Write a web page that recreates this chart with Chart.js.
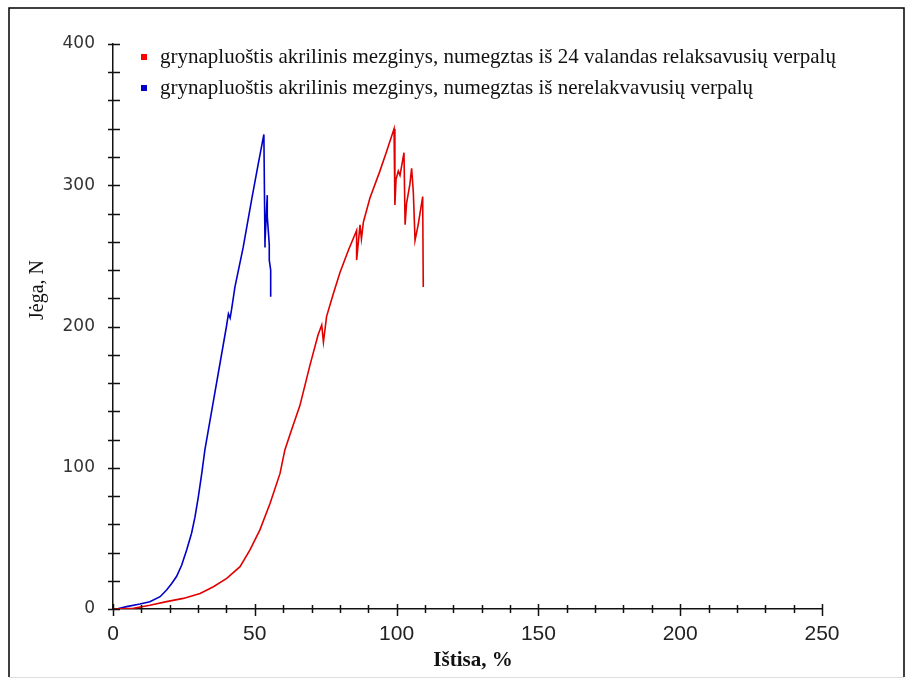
<!DOCTYPE html>
<html>
<head>
<meta charset="utf-8">
<script src="https://cdn.jsdelivr.net/npm/chart.js@4/dist/chart.umd.min.js"></script>
<style>
  html, body { margin: 0; padding: 0; background: #fff; }
  #wrap { width: 910px; height: 682px; position: relative; }
</style>
</head>
<body>
<div id="wrap"><canvas id="chart"></canvas></div>
<script>
// series (x = elongation %, y = force N)
const redX = [0, 7.2, 13, 18.9, 24.8, 30.7, 35.4, 40.1, 44.8, 48.3, 51.8, 55.4, 58.9, 60.6, 63, 65.9, 69.5, 72.3, 73.6, 74.2, 75.3, 77.5, 80, 83, 85.9, 85.9, 87.1, 87.6, 88.3, 90.6, 94.1, 96.5, 99.1, 99.4, 99.8, 100.6, 101.2, 102.6, 103, 103.5, 104.7, 105.3, 105.9, 106.5, 107.6, 109.2, 109.4, 109.4];
const redY = [0, 0.5, 2.6, 5.2, 7.5, 11, 15.8, 21.7, 30, 41.8, 56, 74.8, 96, 112.6, 127, 144, 173, 194, 201, 189, 207, 222, 238, 254, 268, 247, 272, 262, 274, 291, 310, 324, 340, 286, 304, 310, 307, 323, 272, 287, 301, 312, 295, 261, 272, 292, 228, 235];
const blueX = [0, 1.3, 4.8, 9.5, 13, 16.6, 18.9, 20.7, 22.4, 24.2, 26, 27.7, 28.9, 30.1, 31.3, 32.4, 34, 36, 38, 40, 40.7, 41.3, 41.8, 43, 45.9, 48.9, 51.2, 53.2, 53.6, 53.6, 54.4, 54.4, 55.1, 55.1, 55.6, 55.6];
const blueY = [0, 0, 1.7, 3.5, 5.2, 8.7, 13.5, 18, 23, 31, 42, 53.6, 65, 79.5, 96, 112.6, 131, 154, 177, 200, 209, 206, 212, 228, 256, 290, 315, 336, 256, 260, 293, 278, 258, 247, 240, 221];

const seriesLabels = [
    "grynapluoštis akrilinis mezginys, numegztas iš 24 valandas relaksavusių verpalų",
    "grynapluoštis akrilinis mezginys, numegztas iš nerelakvavusių verpalų"
];
const xTitle = "Ištisa, %";
const yTitle = "Jėga, N";
const xMax = 250, yMax = 400;

function toPoints(xs, ys) {
    return xs.map((x, i) => ({ x: x, y: ys[i] }));
}

// frame, legend, axis titles and the crossing tick marks
const decorPlugin = {
    id: 'decor',
    beforeDraw(chart) {
        const ctx = chart.ctx;
        ctx.save();
        ctx.fillStyle = '#fff';
        ctx.fillRect(0, 0, chart.width, chart.height);
        ctx.strokeStyle = '#000';
        ctx.lineWidth = 1.5;
        ctx.beginPath();
        ctx.moveTo(9, 677);
        ctx.lineTo(9, 8);
        ctx.lineTo(904, 8);
        ctx.lineTo(904, 677);
        ctx.stroke();
        ctx.strokeStyle = '#ddd';
        ctx.lineWidth = 1;
        ctx.beginPath();
        ctx.moveTo(9, 677.5);
        ctx.lineTo(904, 677.5);
        ctx.stroke();
        ctx.restore();
    },
    afterDraw(chart) {
        const ctx = chart.ctx;
        const xs = chart.scales.x, ys = chart.scales.y;
        const x0 = xs.getPixelForValue(0), y0 = ys.getPixelForValue(0);
        ctx.save();
        ctx.strokeStyle = '#111';
        ctx.lineWidth = 1.5;
        ctx.beginPath();
        for (let v = 0; v <= yMax; v += 20) {
            const p = Math.round(ys.getPixelForValue(v)) + 0.5;
            ctx.moveTo(x0 - 5, p);
            ctx.lineTo(x0 + 7, p);
        }
        for (let v = 0; v <= xMax; v += 10) {
            const p = Math.round(xs.getPixelForValue(v)) + 0.5;
            const major = v % 50 === 0;
            ctx.moveTo(p, y0 - (major ? 5 : 4));
            ctx.lineTo(p, y0 + (major ? 7 : 4));
        }
        ctx.stroke();

        // legend
        ctx.font = '21px "Liberation Serif", "Times New Roman", serif';
        ctx.textBaseline = 'middle';
        chart.data.datasets.forEach((ds, i) => {
            const cy = 57 + i * 31;
            ctx.fillStyle = ds.legendColor;
            ctx.fillRect(141, cy - 3, 6, 6);
            ctx.fillStyle = '#111';
            ctx.fillText(ds.label, 160, cy);
        });

        // axis titles
        ctx.font = 'bold 21px "Liberation Serif", "Times New Roman", serif';
        ctx.textAlign = 'center';
        ctx.fillText(xTitle, 473, 661);
        ctx.font = '20px "Liberation Serif", "Times New Roman", serif';
        ctx.translate(38, 290);
        ctx.rotate(-Math.PI / 2);
        ctx.fillText(yTitle, 0, 0);
        ctx.restore();
    }
};

const ctx = document.getElementById('chart').getContext('2d');
new Chart(ctx, {
    type: 'line',
    data: {
        datasets: [
            {
                label: seriesLabels[0],
                data: toPoints(redX, redY),
                borderColor: 'rgb(225, 0, 0)',
                legendColor: '#f00',
                borderWidth: 1.6,
                pointRadius: 0,
                tension: 0,
                fill: false
            },
            {
                label: seriesLabels[1],
                data: toPoints(blueX, blueY),
                borderColor: 'rgb(0, 0, 200)',
                legendColor: '#0000c8',
                borderWidth: 1.6,
                pointRadius: 0,
                tension: 0,
                fill: false
            }
        ]
    },
    options: {
        responsive: true,
        maintainAspectRatio: false,
        animation: false,
        layout: { padding: { left: 0, top: 44, right: 88, bottom: 0 } },
        plugins: {
            legend: { display: false },
            tooltip: { enabled: false }
        },
        scales: {
            x: {
                type: 'linear',
                min: 0,
                max: xMax,
                afterFit: s => { s.height = 73; },
                border: { display: true, color: '#111', width: 1.5 },
                grid: { drawOnChartArea: false, drawTicks: false },
                ticks: {
                    stepSize: 50,
                    padding: 13,
                    maxRotation: 0,
                    color: '#222',
                    font: { family: '"Liberation Sans", Arial, sans-serif', size: 21 }
                }
            },
            y: {
                type: 'linear',
                min: 0,
                max: yMax,
                afterFit: s => { s.width = 113; },
                border: { display: true, color: '#111', width: 1.5 },
                grid: { drawOnChartArea: false, drawTicks: false },
                ticks: {
                    stepSize: 100,
                    padding: 18,
                    color: '#333',
                    font: { family: '"DejaVu Sans", sans-serif', size: 17 }
                }
            }
        }
    },
    plugins: [decorPlugin]
});
</script>
</body>
</html>
